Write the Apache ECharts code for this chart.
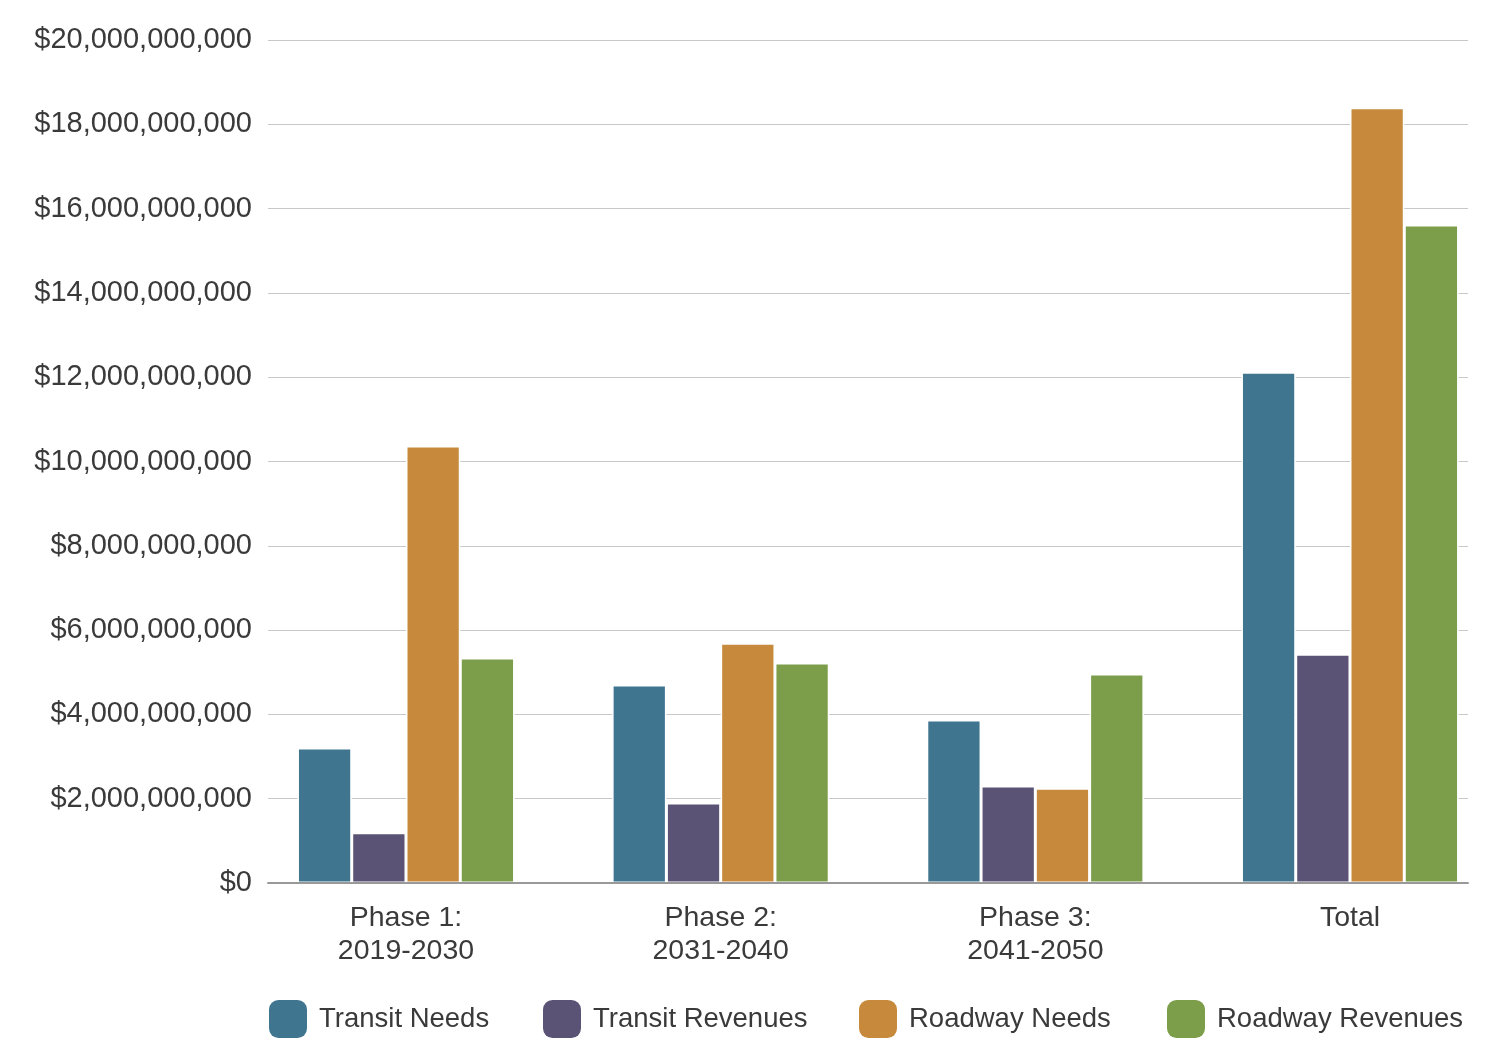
<!DOCTYPE html>
<html><head><meta charset="utf-8">
<script src="https://cdn.jsdelivr.net/npm/echarts@6/dist/echarts.min.js"></script>
<style>html,body{margin:0;padding:0;background:#fff}#c{width:1501px;height:1054px}</style>
</head><body><div id="c"></div>
<script>
const categories = ['Phase 1:\n2019-2030', 'Phase 2:\n2031-2040', 'Phase 3:\n2041-2050', 'Total'];
const transitNeeds = [3.20e9, 4.70e9, 3.87e9, 12.12e9];
const transitRevenues = [1.19e9, 1.90e9, 2.30e9, 5.43e9];
const roadwayNeeds = [10.37e9, 5.69e9, 2.25e9, 18.39e9];
const roadwayRevenues = [5.34e9, 5.22e9, 4.96e9, 15.61e9];
const seriesNames = ['Transit Needs', 'Transit Revenues', 'Roadway Needs', 'Roadway Revenues'];
const colors = ['#3f758f', '#5b5375', '#c78a3c', '#7c9e4a'];
const yMax = 20e9, yStep = 2e9;

const font = "'Liberation Sans', Arial, sans-serif";
const chart = echarts.init(document.getElementById('c'));
const dataSets = [transitNeeds, transitRevenues, roadwayNeeds, roadwayRevenues];
const legendLeft = [269, 543, 859, 1167];
chart.setOption({
  animation: false,
  grid: [
    {left: 268, right: 33, top: 40, bottom: 171},
    {left: 406, width: 944, top: 40, bottom: 171}
  ],
  xAxis: [
    {gridIndex: 0, type: 'category', data: categories, axisLine: {show: true, lineStyle: {color: '#999', width: 2}}, axisTick: {show: false}, axisLabel: {show: false}, z: 10},
    {gridIndex: 1, type: 'category', data: categories, boundaryGap: false, axisLine: {show: false}, axisTick: {show: false},
     splitLine: {show: false},
     axisLabel: {color: '#3a3a3a', fontSize: 28.5, fontFamily: font, lineHeight: 33, margin: 19}}
  ],
  yAxis: [
    {gridIndex: 0, type: 'value', min: 0, max: yMax, interval: yStep,
     axisLine: {show: false}, axisTick: {show: false},
     splitLine: {lineStyle: {color: '#c8c8c8', width: 1}},
     axisLabel: {color: '#3a3a3a', fontSize: 29, fontFamily: font, margin: 16, lineHeight: 29, padding: [5, 0, 0, 0],
       formatter: v => '$' + v.toLocaleString('en-US')}},
    {gridIndex: 1, type: 'value', min: 0, max: yMax, interval: yStep, show: false, splitLine: {show: false}}
  ],
  legend: seriesNames.map((n, i) => ({
    data: [n], left: legendLeft[i], top: 1000, padding: 0, itemWidth: 38, itemHeight: 38, icon: 'roundRect',
    itemStyle: {borderWidth: 0},
    textStyle: {color: '#3a3a3a', fontSize: 27.5, fontFamily: font, padding: [0, 0, 0, 7]}
  })),
  series: seriesNames.map((n, i) => ({
    name: n, type: 'bar', xAxisIndex: 1, yAxisIndex: 1, data: dataSets[i], clip: false,
    barGap: '0%', barCategoryGap: '31%',
    itemStyle: {color: colors[i], borderColor: '#fff', borderWidth: 1.5}
  }))
});
</script></body></html>
